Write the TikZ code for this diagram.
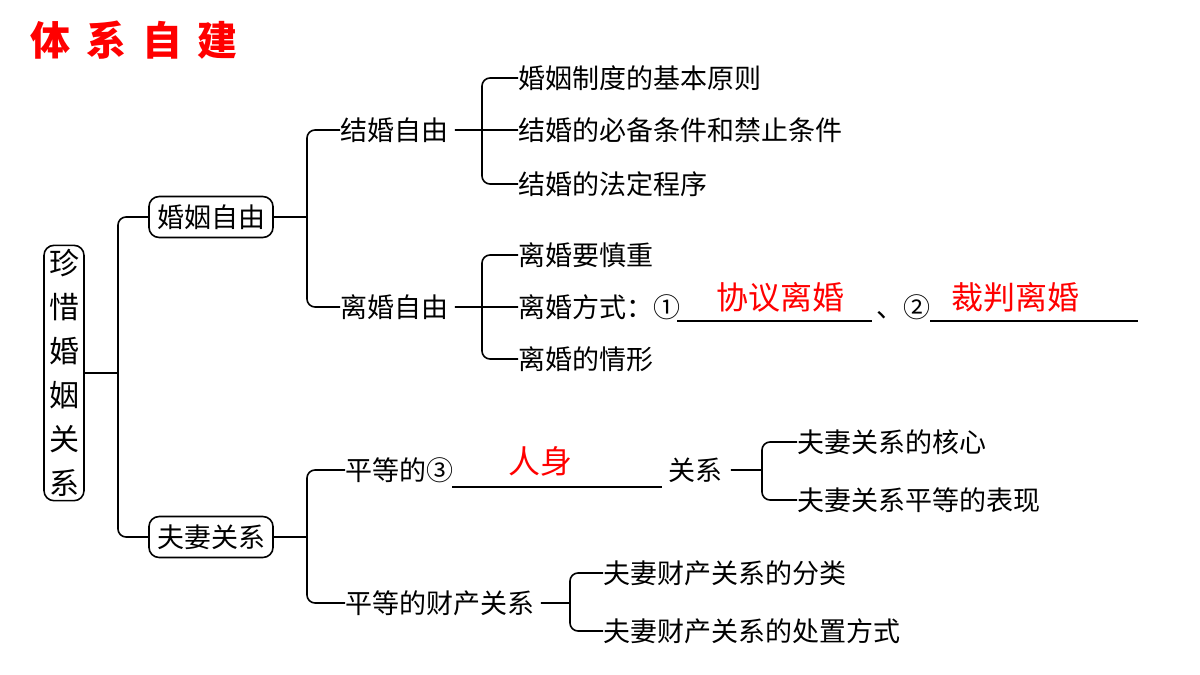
\documentclass[tikz,border=0pt]{standalone}
\usepackage{fontspec}
\setmainfont{Noto Sans CJK SC}
\usepackage{tikz}

\tikzset{
  box/.style={draw, rounded corners=5pt, line width=0.8pt, inner sep=4pt, font=\fontsize{13.5}{14}\selectfont},
  txt/.style={anchor=west, inner sep=0pt, font=\fontsize{13.5}{14}\selectfont},
  ans/.style={inner sep=0pt, text=red, font=\fontsize{16}{17}\selectfont},
  link/.style={line width=0.8pt, rounded corners=4pt}
}

\begin{document}
\begin{tikzpicture}[x=0.5pt,y=0.5pt,yscale=-1,xscale=1]
\useasboundingbox (0,0) rectangle (1200,675);

% Title
\node (title) [anchor=west, inner sep=0pt, text=red, font=\fontsize{20}{22}\bfseries\selectfont] at (30,40) {体\ \,系\ \,自\ \,建};

% Root and first level
\node (root) [box, text width=16pt, align=center, inner sep=2pt, font=\fontsize{15}{22}\selectfont] at (64,373) {珍\\惜\\婚\\姻\\关\\系};
\node (ziyou) [box] at (211,217) {婚姻自由};
\node (fuqi) [box] at (211,537) {夫妻关系};
\draw [link] (root.east) -- (118,373) (ziyou.west) -| (118,373) |- (fuqi.west);

% 婚姻自由
\node (jiehun) [txt] at (340,130) {结婚自由};
\node (lihun) [txt] at (340,307) {离婚自由};
\draw [link] (ziyou.east) -- (307,217) (jiehun.west) -| (307,217) |- (lihun.west);

\node (j1) [txt] at (518,78) {婚姻制度的基本原则};
\node (j2) [txt] at (518,130) {结婚的必备条件和禁止条件};
\node (j3) [txt] at (518,184) {结婚的法定程序};
\draw [link] (jiehun.east) ++(6,0) -- (j2.west) (j1.west) -| (482,130) |- (j3.west);

\node (l1) [txt] at (518,255) {离婚要慎重};
\node (l2) [txt] at (518,307) {离婚方式：①};
\node (l3) [txt] at (518,359) {离婚的情形};
\draw [link] (lihun.east) ++(6,0) -- (l2.west) (l1.west) -| (482,307) |- (l3.west);

\coordinate (u1a) at (677,321);
\coordinate (u1b) at (872,321);
\node (sep) [txt] at (876,307) {、②};
\coordinate (u2a) at (930,321);
\coordinate (u2b) at (1138,321);
\draw [line width=0.8pt] (u1a) -- (u1b) (u2a) -- (u2b);
\node (a1) [ans] at (780,297) {协议离婚};
\node (a2) [ans] at (1015,297) {裁判离婚};

% 夫妻关系
\node (renshen) [txt] at (345,470) {平等的③};
\node (caichan) [txt] at (345,603) {平等的财产关系};
\draw [link] (fuqi.east) -- (307,537) (renshen.west) -| (307,537) |- (caichan.west);

\coordinate (u3a) at (452,487);
\coordinate (u3b) at (662,487);
\draw [line width=0.8pt] (u3a) -- (u3b);
\node (a3) [ans] at (540,461) {人身};
\node (guanxi) [txt] at (668,470) {关系};

\node (r1) [txt] at (797,442) {夫妻关系的核心};
\node (r2) [txt] at (797,500) {夫妻关系平等的表现};
\draw [link] (guanxi.east) ++(8,0) -- (762,470) (r1.west) -| (762,470) |- (r2.west);

\node (c1) [txt] at (603,573) {夫妻财产关系的分类};
\node (c2) [txt] at (603,631) {夫妻财产关系的处置方式};
\draw [link] (caichan.east) ++(6,0) -- (570,603) (c1.west) -| (570,603) |- (c2.west);
\end{tikzpicture}
\end{document}
